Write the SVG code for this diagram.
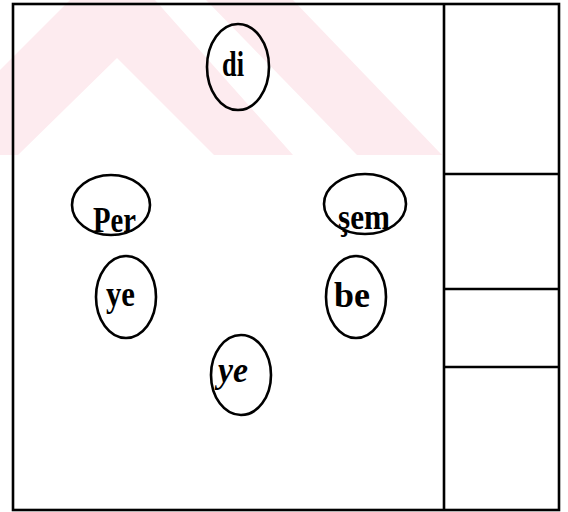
<svg xmlns="http://www.w3.org/2000/svg" width="568" height="512" viewBox="0 0 568 512">
  <style>
    .wm { fill: #fdebef; stroke: none; }
    .frame { fill: none; stroke: #000; stroke-width: 2.6; }
    .node ellipse { fill: none; stroke: #000; stroke-width: 2.6; }
    .node text { font-family: "Liberation Serif", "Times New Roman", serif; font-weight: bold; font-size: 35px; fill: #000; }
  </style>
  <rect x="0" y="0" width="568" height="512" fill="#fff"/>
  <g id="watermark">
    <polygon class="wm" points="70,0 0,70 0,155 18,155 117,58 214,155 293,155 155,0"/>
    <polygon class="wm" points="206,0 293,0 442,155 357,155"/>
  </g>
  <g id="frame">
    <rect class="frame" x="13" y="4" width="546" height="506"/>
    <line class="frame" x1="444" y1="4" x2="444" y2="510"/>
    <line class="frame" x1="444" y1="174" x2="559" y2="174"/>
    <line class="frame" x1="444" y1="289" x2="559" y2="289"/>
    <line class="frame" x1="444" y1="367" x2="559" y2="367"/>
  </g>
  <g id="connectors"></g>
  <g id="node-di" class="node">
    <ellipse cx="238" cy="67" rx="31" ry="43"/>
    <text x="222" y="76" textLength="22" lengthAdjust="spacingAndGlyphs">di</text>
  </g>
  <g id="node-per" class="node">
    <ellipse cx="111" cy="205" rx="39" ry="30"/>
    <text x="93" y="232" textLength="43" lengthAdjust="spacingAndGlyphs">Per</text>
  </g>
  <g id="node-sem" class="node">
    <ellipse cx="365" cy="204" rx="41" ry="30"/>
    <text x="338" y="229" textLength="52" lengthAdjust="spacingAndGlyphs">şem</text>
  </g>
  <g id="node-ye1" class="node">
    <ellipse cx="126" cy="297" rx="30" ry="41"/>
    <text x="106" y="306" textLength="29" lengthAdjust="spacingAndGlyphs">ye</text>
  </g>
  <g id="node-be" class="node">
    <ellipse cx="356" cy="297" rx="30" ry="41"/>
    <text x="334" y="307" textLength="36" lengthAdjust="spacingAndGlyphs">be</text>
  </g>
  <g id="node-ye2" class="node">
    <ellipse cx="241" cy="375" rx="30" ry="40"/>
    <text x="218" y="382" textLength="30" lengthAdjust="spacingAndGlyphs" font-style="italic">ye</text>
  </g>
</svg>
